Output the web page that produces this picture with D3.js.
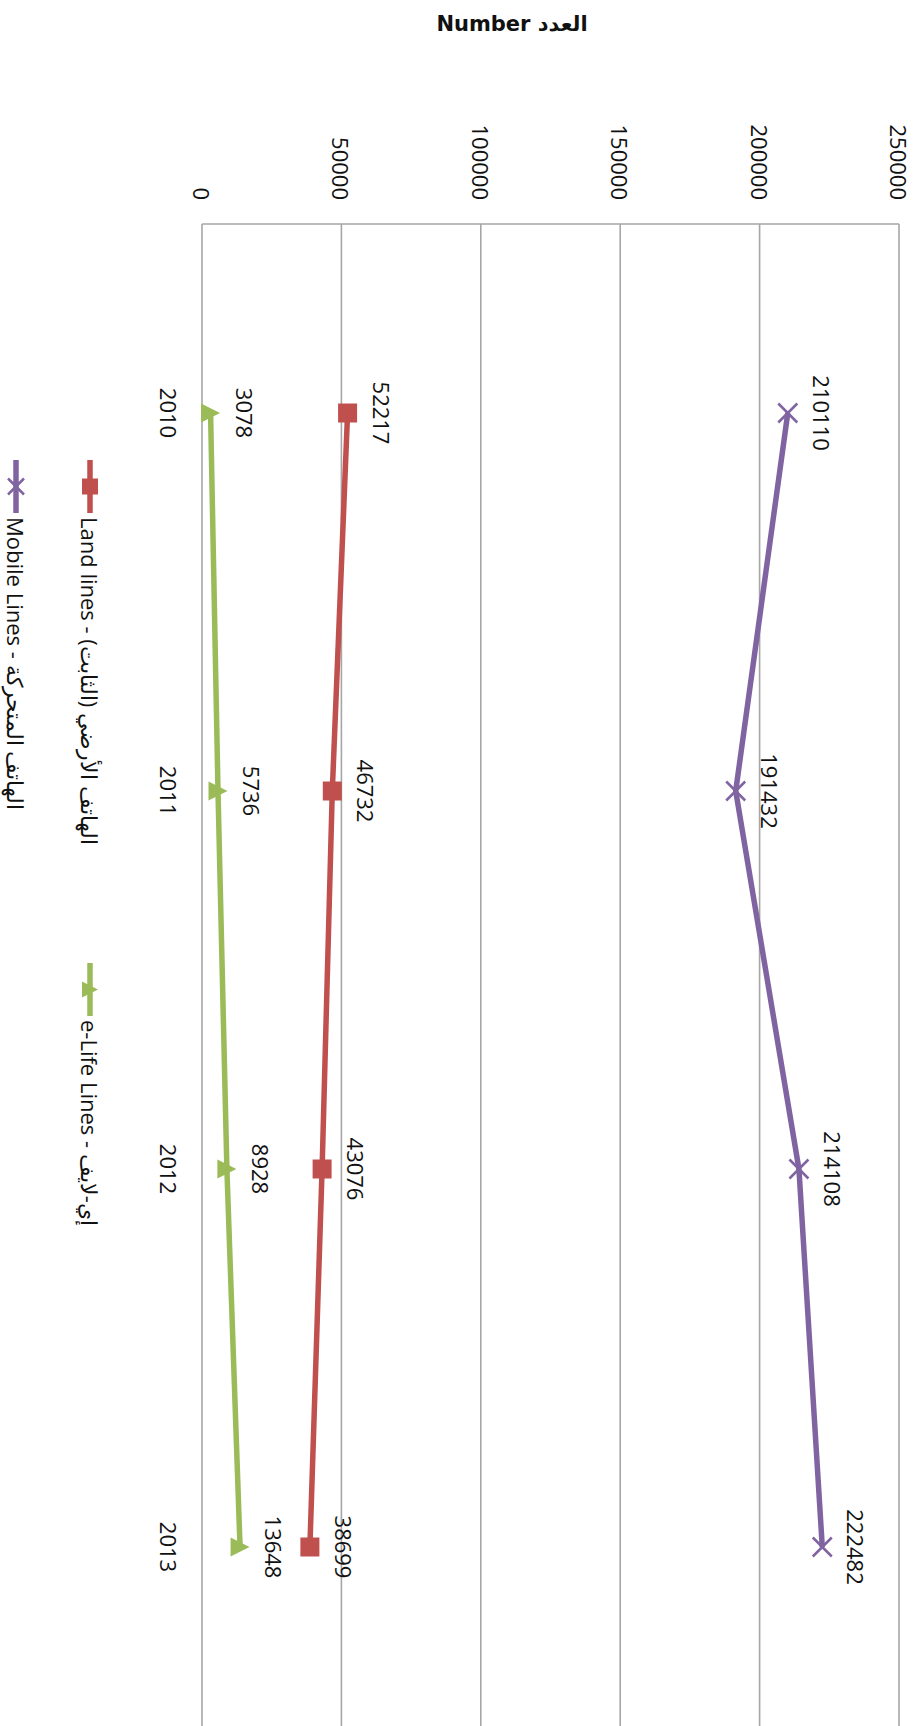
<!DOCTYPE html>
<html>
<head>
<meta charset="utf-8">
<script src="https://cdn.jsdelivr.net/npm/d3@7.9.0/dist/d3.min.js"></script>
<style>
  body { margin: 0; background: #fff; }
  svg { display: block; }
  text { font-family: "Open Sans", sans-serif; fill: #111; }
</style>
</head>
<body>
<svg id="chart" width="922" height="1726"></svg>
<script>
const years = ['2010', '2011', '2012', '2013'];
const mobile = [210110, 191432, 214108, 222482];
const land = [52217, 46732, 43076, 38699];
const elife = [3078, 5736, 8928, 13648];
const ticks = [0, 50000, 100000, 150000, 200000, 250000];

const series = [
  { name: 'Mobile Lines - الهاتف المتحركة', values: mobile, color: '#8064A2', marker: 'x' },
  { name: 'Land lines - الهاتف الأرضي (الثابت)\u200F', values: land, color: '#C0504D', marker: 'square' },
  { name: 'e-Life Lines - إي-لايف', values: elife, color: '#9BBB59', marker: 'triangle' }
];

const W = 922, H = 1726;
const svg = d3.select('#chart');

// title stays horizontal on screen
svg.append('text')
  .attr('x', 512).attr('y', 31)
  .attr('text-anchor', 'middle')
  .style('font-family', '"DejaVu Sans", sans-serif')
  .style('font-weight', 'bold')
  .style('font-size', '21px')
  .text('Number العدد');

// the whole chart is drawn normally then turned 90 degrees clockwise
const g = svg.append('g').attr('transform', `translate(${W},0) rotate(90)`);

const x = d3.scaleBand().domain(years).range([224, 224 + 4 * 378]);
const y = d3.scaleLinear().domain([0, 250000]).range([720, 23]);

// gridlines
g.selectAll('.grid')
  .data(ticks)
  .enter()
  .append('line')
  .attr('x1', 224).attr('x2', 1736)
  .attr('y1', d => y(d)).attr('y2', d => y(d))
  .attr('stroke', '#a6a6a6')
  .attr('stroke-width', 1.6);

// value axis line
g.append('line')
  .attr('x1', 224).attr('x2', 224)
  .attr('y1', y(0)).attr('y2', y(250000))
  .attr('stroke', '#a6a6a6')
  .attr('stroke-width', 1.6);

// tick labels
g.selectAll('.tick')
  .data(ticks)
  .enter()
  .append('text')
  .attr('x', 200)
  .attr('y', d => y(d))
  .attr('text-anchor', 'end')
  .attr('dominant-baseline', 'central')
  .style('font-size', '22px')
  .text(d => d);

// category labels
g.selectAll('.year')
  .data(years)
  .enter()
  .append('text')
  .attr('x', d => x(d) + x.bandwidth() / 2)
  .attr('y', 753)
  .attr('text-anchor', 'middle')
  .attr('dominant-baseline', 'central')
  .style('font-size', '22px')
  .text(d => d);

function drawMarker(sel, type, color, size) {
  if (type === 'square') {
    sel.append('rect')
      .attr('x', -size / 2).attr('y', -size / 2)
      .attr('width', size).attr('height', size)
      .attr('fill', color);
  } else if (type === 'triangle') {
    sel.append('path')
      .attr('d', `M0,${-size / 2} L${size / 2},${size / 2} L${-size / 2},${size / 2} Z`)
      .attr('fill', color);
  } else {
    let s = size / 2;
    sel.append('path')
      .attr('d', `M${-s},${-s} L${s},${s} M${-s},${s} L${s},${-s}`)
      .attr('stroke', color)
      .attr('stroke-width', 2.5)
      .attr('fill', 'none');
  }
}

let line = d3.line()
  .x((d, i) => x(years[i]) + x.bandwidth() / 2)
  .y(d => y(d));

series.forEach(s => {
  g.append('path')
    .datum(s.values)
    .attr('d', line)
    .attr('fill', 'none')
    .attr('stroke', s.color)
    .attr('stroke-width', 5.5)
    .attr('stroke-linejoin', 'round');

  s.values.forEach((v, i) => {
    let cx = x(years[i]) + x.bandwidth() / 2;
    let m = g.append('g').attr('transform', `translate(${cx},${y(v)})`);
    drawMarker(m, s.marker, s.color, 19);

    g.append('text')
      .attr('x', cx)
      .attr('y', y(v) - 34)
      .attr('text-anchor', 'middle')
      .attr('dominant-baseline', 'central')
      .style('font-size', '22px')
      .text(v);
  });
});

// legend
const legendItems = [
  { s: series[1], lx: 460, ly: 832 },
  { s: series[2], lx: 963, ly: 832 },
  { s: series[0], lx: 460, ly: 906 }
];

legendItems.forEach(d => {
  let lg = g.append('g').attr('transform', `translate(${d.lx},${d.ly})`);
  lg.append('line')
    .attr('x1', 0).attr('x2', 53)
    .attr('y1', 0).attr('y2', 0)
    .attr('stroke', d.s.color)
    .attr('stroke-width', 5.5);
  let m = lg.append('g').attr('transform', 'translate(26.5,0)');
  drawMarker(m, d.s.marker, d.s.color, 16);
  lg.append('text')
    .attr('x', 57)
    .attr('y', 0)
    .attr('dominant-baseline', 'central')
    .style('font-size', '22px')
    .text(d.s.name);
});
</script>
</body>
</html>
